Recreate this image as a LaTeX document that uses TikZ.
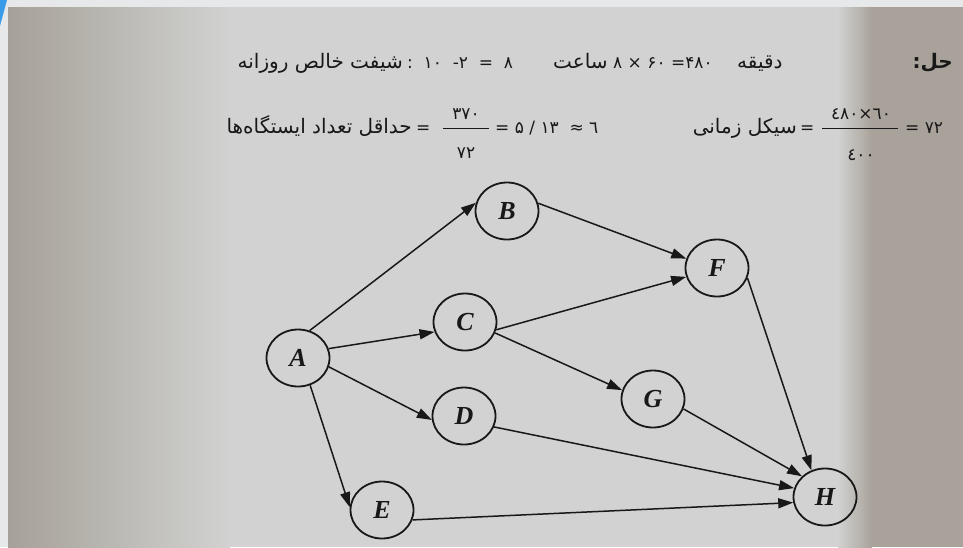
\documentclass[tikz,border=0pt]{standalone}
\usepackage{fontspec}
\usetikzlibrary{shapes.geometric,arrows.meta}
\TeXXeTstate=1
\newfontfamily\fa[Script=Arabic]{DejaVu Sans}
\newfontfamily\fanum{DejaVu Sans}
\newfontfamily\lsr{Liberation Serif}
\definecolor{ink}{HTML}{181818}
\definecolor{topstrip}{HTML}{E6E8EA}
\definecolor{pagedark}{HTML}{A6A198}
\definecolor{pagemid}{HTML}{D1D2D1}
\definecolor{pageright}{HTML}{A9A29A}
\definecolor{wedge}{HTML}{3A9BE8}
\begin{document}
\begin{tikzpicture}[x=1pt,y=-1pt,
  st/.style={ellipse,draw=ink,line width=1.8pt,minimum width=63pt,minimum height=57pt,inner sep=0pt,
    font=\lsr\bfseries\itshape\fontsize{26}{26}\selectfont,text=ink},
  ar/.style={draw=ink,line width=1.5pt,-{Triangle[length=15pt,width=10pt]}},
  tx/.style={font=\fa\fontsize{20}{22}\selectfont,text=ink,inner sep=0pt},
  num/.style={font=\fanum\fontsize{17}{19}\selectfont,text=ink,inner sep=0pt},
  bar/.style={draw=ink,line width=1pt}]
\useasboundingbox (0,0) rectangle (963,547);
% background (photo of a page)
\fill[topstrip] (0,0) rectangle (963,547);
\shade[left color=pagedark,right color=pagemid] (8,7) rectangle (230,547);
\fill[pagemid] (230,7) rectangle (838,547);
\shade[left color=pagemid,right color=pageright] (838,7) rectangle (872,547);
\fill[pageright] (872,7) rectangle (963,547);
\fill[wedge] (0,0) -- (7,0) -- (0,26) -- cycle;

% line 1
\node[tx,font=\fa\bfseries\fontsize{20}{22}\selectfont,anchor=base east] (t0) at (953,68) {\beginR حل:\endR};
\node[tx,anchor=base east] (t1) at (403,68) {\beginR شیفت خالص روزانه\endR};
\node[num,anchor=base west] (t2) at (407,68) {:\ \ ۱۰\ \ -۲\ \ =\ \ ۸};
\node[tx,anchor=base west] (t3) at (553,68) {\beginR ساعت\endR};
\node[num,anchor=base west] (t4) at (613,68) {۸ × ۶۰ =۴۸۰};
\node[tx,anchor=base west] (t5) at (737,68) {\beginR دقیقه\endR};

% line 2 left
\node[tx,anchor=base east] (u1) at (412,133) {\beginR حداقل تعداد ایستگاه‌ها\endR};
\node[num,anchor=base west] (u2) at (416,133) {=};
\node[num,anchor=base] (u3) at (466,119) {۳۷۰};
\node[num,anchor=base] (u4) at (466,158) {۷۲};
\draw[bar] (443,128) -- (489,128);
\node[num,anchor=base west] (u5) at (495,133) {=\ ۵\ /\ ۱۳\ \ ≈\ ٦};

% line 2 right
\node[tx,anchor=base east] (v1) at (797,133) {\beginR سیکل زمانی\endR};
\node[num,anchor=base west] (v2) at (800,133) {=};
\node[num,anchor=base] (v3) at (861,119) {٦٠×٤٨٠};
\node[num,anchor=base] (v4) at (861,160) {٤٠٠};
\draw[bar] (822,128) -- (898,128);
\node[num,anchor=base west] (v5) at (905,133) {= ۷۲};

% graph
\node[st] (A) at (298,358) {A};
\node[st] (B) at (507,211) {B};
\node[st] (C) at (465,322) {C};
\node[st] (D) at (464,416) {D};
\node[st] (E) at (382,510) {E};
\node[st] (F) at (717,268) {F};
\node[st] (G) at (653,399) {G};
\node[st] (H) at (825,497) {H};

\draw[ar] (A.67) -- (B.165);
\draw[ar] (A.17) -- (C.198);
\draw[ar] (A.-16) -- (D.187);
\draw[ar] (A.-66) -- (E.175);
\draw[ar] (B.14) -- (F.163);
\draw[ar] (C.-14) -- (F.196);
\draw[ar] (C.-20) -- (G.164);
\draw[ar] (D.-20) -- (H.164);
\draw[ar] (G.-18) -- (H.138);
\draw[ar] (E.-18) -- (H.190);
\draw[ar] (F.-18) -- (H.117);
\end{tikzpicture}
\end{document}
